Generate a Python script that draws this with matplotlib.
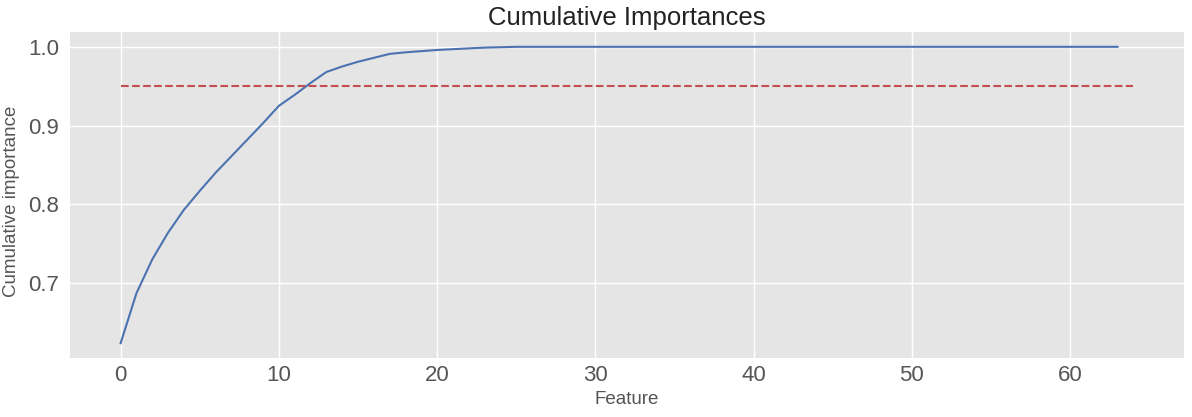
import matplotlib
matplotlib.use("Agg")
import matplotlib.pyplot as plt
import numpy as np

plt.style.use('ggplot')
plt.rcParams['font.family'] = ['Liberation Sans', 'DejaVu Sans']

cumulative_importance = [
    0.6235, 0.687, 0.730, 0.764, 0.793, 0.817, 0.840, 0.861, 0.882, 0.903,
    0.925, 0.939, 0.954, 0.968, 0.975, 0.981, 0.986, 0.991, 0.993, 0.9945,
    0.996, 0.997, 0.998, 0.999, 0.9995, 1.0,
] + [1.0] * 38
features = list(range(len(cumulative_importance)))
threshold = 0.95
threshold_xmin, threshold_xmax = 0, 64

fig = plt.figure(figsize=(11.92, 4.17), dpi=100)
ax = fig.add_axes([70/1192, 1 - 358/417, (1184-70)/1192, (358-32)/417])
ax.plot(features, cumulative_importance, color='#4C72B0', lw=1.5)
ax.hlines(y=threshold, xmin=threshold_xmin, xmax=threshold_xmax,
          color='#C44E52', linestyles='dashed', lw=1.5)
ax.margins(x=0.05, y=0.05)
ax.set_facecolor('#E5E5E5')
ax.grid(True, color='white', lw=1.0)
ax.tick_params(length=0, labelsize=16, colors='#555555')
ax.tick_params(axis='x', pad=5)
ax.tick_params(axis='y', pad=8)
ax.set_xticks([0, 10, 20, 30, 40, 50, 60])
ax.set_yticks([0.7, 0.8, 0.9, 1.0])
ax.set_xlabel('Feature', fontsize=13.5, color='#555555', labelpad=4)
ax.set_ylabel('Cumulative importance', fontsize=13.5, color='#555555')
ax.yaxis.set_label_coords(-0.045, 0.48)
ax.set_title('Cumulative Importances', fontsize=18.5, color='#222222', pad=5)
for s in ax.spines.values():
    s.set_visible(False)

fig.savefig('out.png', dpi=100)
